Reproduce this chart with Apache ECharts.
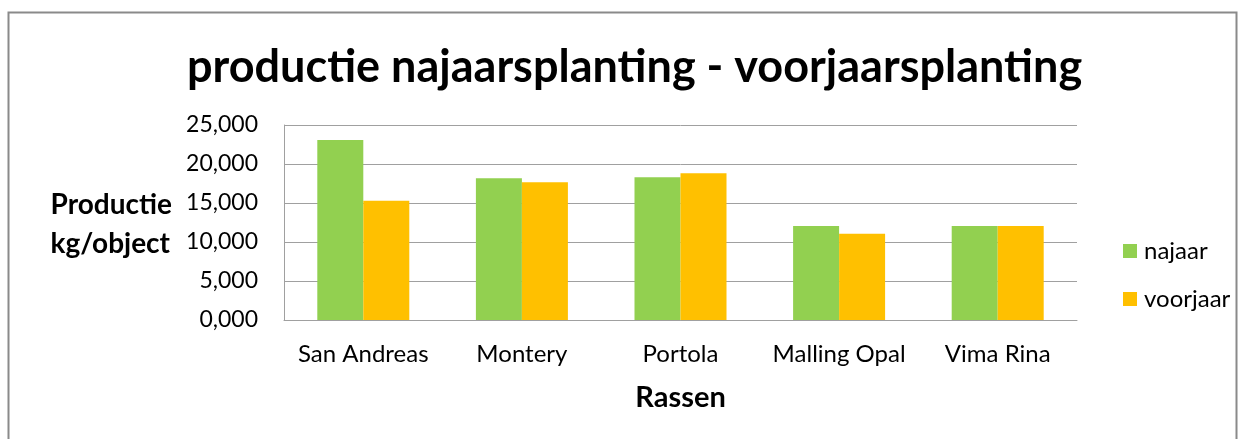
<!DOCTYPE html>
<html>
<head>
<meta charset="utf-8">
<script src="https://cdn.jsdelivr.net/npm/echarts@6/dist/echarts.min.js"></script>
<style>
html,body{margin:0;padding:0;background:#fff;}
#chart{width:1245px;height:439px;}
</style>
</head>
<body>
<div id="chart"></div>
<script>
const categories = ['San Andreas', 'Montery', 'Portola', 'Malling Opal', 'Vima Rina'];
const najaar = [23.08, 18.16, 18.3, 12.05, 12.05];
const voorjaar = [15.3, 17.65, 18.8, 11.07, 12.05];
const yTicks = [0, 5, 10, 15, 20, 25];

const FONT = 'Lato';
const chart = echarts.init(document.getElementById('chart'));
chart.setOption({
  animation: false,
  backgroundColor: '#fff',
  title: {
    text: 'productie najaarsplanting - voorjaarsplanting',
    left: 182,
    top: 40,
    textStyle: { fontFamily: FONT, fontWeight: 'bold', fontSize: 45, color: '#000' }
  },
  graphic: [{
    type: 'rect',
    shape: { x: 8.5, y: 12.5, width: 1228, height: 440 },
    style: { fill: 'none', stroke: '#8a8a8a', lineWidth: 2 }
  }, {
    type: 'text',
    right: 1245 - 172, top: 185,
    style: { text: 'Productie\nkg/object', font: 'bold 28px Lato', fill: '#000', lineHeight: 39, align: 'right' }
  }],
  legend: {
    orient: 'vertical',
    left: 1118,
    top: 234,
    itemWidth: 14,
    itemHeight: 14,
    itemGap: 24,
    icon: 'rect',
    textStyle: { fontFamily: FONT, fontSize: 24, color: '#000', padding: [0, 0, 0, 2] },
    data: ['najaar', 'voorjaar']
  },
  grid: { left: 284, right: 168, top: 125, bottom: 119, containLabel: false },
  xAxis: {
    type: 'category',
    data: categories,
    name: 'Rassen',
    nameLocation: 'middle',
    nameGap: 63,
    nameTextStyle: { fontFamily: FONT, fontWeight: 'bold', fontSize: 29, color: '#000' },
    axisLine: { lineStyle: { color: '#a0a0a0', width: 1 } },
    axisTick: { show: false },
    axisLabel: { fontFamily: FONT, fontSize: 24, color: '#000', margin: 22, interval: 0, hideOverlap: false }
  },
  yAxis: {
    type: 'value',
    min: 0, max: 25, interval: 5,
    axisLine: { show: true, lineStyle: { color: '#a0a0a0', width: 1 } },
    axisTick: { show: false },
    splitLine: { lineStyle: { color: '#a0a0a0', width: 1 } },
    axisLabel: {
      fontFamily: FONT, fontSize: 23, color: '#000', margin: 26,
      formatter: v => yTicks.includes(v) ? v.toFixed(3).replace('.', ',') : ''
    }
  },
  series: [{
    name: 'najaar', type: 'bar', data: najaar, barWidth: 46, barGap: '0%',
    itemStyle: { color: '#92d050' }
  }, {
    name: 'voorjaar', type: 'bar', data: voorjaar, barWidth: 46, barGap: '0%',
    itemStyle: { color: '#ffc000' }
  }]
});
</script>
</body>
</html>
